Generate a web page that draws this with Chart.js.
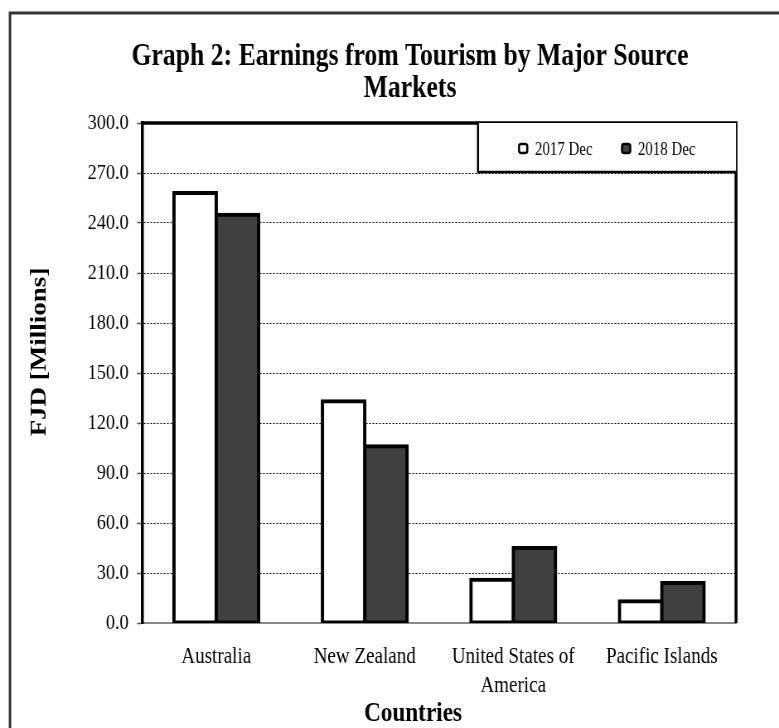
<!DOCTYPE html>
<html><head><meta charset="utf-8">
<script src="https://cdn.jsdelivr.net/npm/chart.js@4"></script>
<style>
html,body{margin:0;padding:0;overflow:hidden;background:#fff;}
#wrap{width:779px;height:728px;overflow:hidden;position:relative;background:#fff;}
#c{position:absolute;left:0;top:0;transform-origin:0 0;transform:scaleX(0.828723);}
</style></head><body>
<div id="wrap"><canvas id="c" width="940" height="728"></canvas></div>
<script>
const categories = ['Australia', 'New Zealand', ['United States of', 'America'], 'Pacific Islands'];
const seriesNames = ['2017 Dec', '2018 Dec'];
const values2017 = [258, 133, 26, 13];
const values2018 = [245, 106, 45, 24];
const seriesColors = ['#ffffff', '#404040'];
const titleLines = ['Graph 2: Earnings from Tourism by Major Source', 'Markets'];
const yAxisTitle = 'FJD [Millions]';
const xAxisTitle = 'Countries';
const yMin = 0, yMax = 300, yStep = 30;

const S = 779 / 940;
const X = v => v / S;
const SERIF = '"Liberation Serif", "Times New Roman", serif';

const deco = {
  id: 'deco',
  beforeDraw(chart) {
    const ctx = chart.ctx;
    ctx.save();
    ctx.fillStyle = '#fff';
    ctx.fillRect(0, 0, chart.width, chart.height);
    ctx.restore();
  },
  afterDraw(chart) {
    const {ctx, chartArea: a} = chart;
    ctx.save();
    // outer frame
    ctx.strokeStyle = '#333';
    ctx.lineWidth = 3;
    ctx.beginPath();
    ctx.moveTo(X(10), 760); ctx.lineTo(X(10), 13); ctx.lineTo(chart.width + 10, 13);
    ctx.stroke();
    // plot frame top/right
    ctx.strokeStyle = '#000';
    ctx.lineWidth = 3.5;
    ctx.beginPath();
    ctx.moveTo(a.left - 1.5, a.top); ctx.lineTo(a.right, a.top); ctx.lineTo(a.right, a.bottom);
    ctx.stroke();
    // legend box
    const lx = X(478), ly = a.top, lb = 172;
    ctx.fillStyle = '#fff';
    ctx.fillRect(lx, ly, a.right - lx, lb - ly);
    ctx.lineWidth = 2.5;
    ctx.beginPath();
    ctx.moveTo(lx, ly); ctx.lineTo(lx, lb); ctx.lineTo(a.right, lb);
    ctx.stroke();
    const markerX = [X(519), X(622)];
    const textX = [X(535), X(638)];
    ctx.font = '18px ' + SERIF;
    ctx.textBaseline = 'middle';
    ctx.textAlign = 'left';
    chart.data.datasets.forEach((ds, i) => {
      const mx = markerX[i], my = 144, w = 10, h = 9, r = 2.5;
      ctx.beginPath();
      ctx.moveTo(mx + r, my);
      ctx.lineTo(mx + w - r, my); ctx.quadraticCurveTo(mx + w, my, mx + w, my + r);
      ctx.lineTo(mx + w, my + h - r); ctx.quadraticCurveTo(mx + w, my + h, mx + w - r, my + h);
      ctx.lineTo(mx + r, my + h); ctx.quadraticCurveTo(mx, my + h, mx, my + h - r);
      ctx.lineTo(mx, my + r); ctx.quadraticCurveTo(mx, my, mx + r, my);
      ctx.closePath();
      ctx.fillStyle = ds.backgroundColor;
      ctx.fill();
      ctx.lineWidth = 2.5;
      ctx.strokeStyle = '#000';
      ctx.stroke();
      ctx.fillStyle = '#000';
      ctx.fillText(ds.label, textX[i], 150);
    });
    // chart title
    ctx.fillStyle = '#000';
    ctx.textAlign = 'center';
    ctx.textBaseline = 'alphabetic';
    ctx.font = 'bold 31px ' + SERIF;
    ctx.fillText(titleLines[0], X(410), 65);
    ctx.fillText(titleLines[1], X(410), 97);
    // x axis title
    ctx.font = 'bold 28px ' + SERIF;
    ctx.fillText(xAxisTitle, X(413), 721);
    // y axis title
    ctx.save();
    ctx.translate(X(40), 352);
    ctx.rotate(-Math.PI / 2);
    ctx.font = 'bold 27px ' + SERIF;
    ctx.textBaseline = 'middle';
    ctx.fillText(yAxisTitle, 0, 0);
    ctx.restore();
    ctx.restore();
  }
};

new Chart(document.getElementById('c'), {
  type: 'bar',
  data: {
    labels: categories,
    datasets: [
      {label: seriesNames[0], data: values2017, backgroundColor: seriesColors[0],
       borderColor: '#000', borderWidth: 4, borderSkipped: false, inflateAmount: 2,
       barPercentage: 1, categoryPercentage: 0.57},
      {label: seriesNames[1], data: values2018, backgroundColor: seriesColors[1],
       borderColor: '#000', borderWidth: 4, borderSkipped: false, inflateAmount: 2,
       barPercentage: 1, categoryPercentage: 0.57}
    ]
  },
  options: {
    responsive: false,
    animation: false,
    devicePixelRatio: 1,
    layout: {padding: {left: 0, right: 940 - X(736), top: 123, bottom: 0}},
    plugins: {
      legend: {display: false},
      title: {display: false},
      tooltip: {enabled: false}
    },
    scales: {
      x: {
        afterFit(s) { s.height = 105; },
        grid: {display: true, drawOnChartArea: false, drawTicks: false},
        border: {display: true, color: '#888', width: 2},
        ticks: {
          color: '#000',
          font: {family: SERIF, size: 23, lineHeight: 1.25},
          padding: 20,
          maxRotation: 0,
          autoSkip: false
        }
      },
      y: {
        min: yMin, max: yMax,
        afterFit(s) { s.width = X(142); },
        grid: {
          color: ctx => (ctx.tick && (ctx.tick.value === yMin || ctx.tick.value === yMax)) ? 'rgba(0,0,0,0)' : '#000',
          lineWidth: 1,
          drawTicks: true,
          tickLength: 6,
          tickColor: '#555',
          tickWidth: 1.5
        },
        border: {display: true, color: '#000', width: 3.5, dash: [2, 2]},
        ticks: {
          stepSize: yStep,
          color: '#000',
          font: {family: SERIF, size: 22},
          padding: 10,
          callback: v => Number(v).toFixed(1)
        }
      }
    }
  },
  plugins: [deco]
});
</script>
</body></html>
